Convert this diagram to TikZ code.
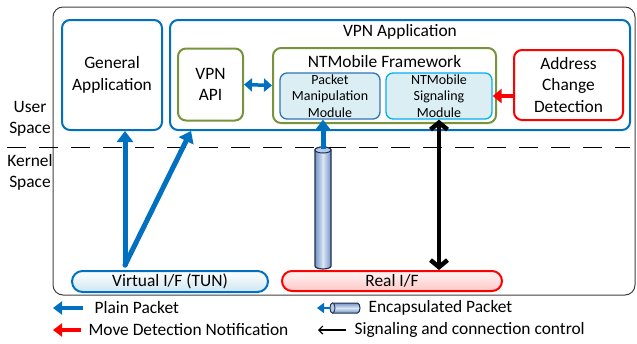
\documentclass[tikz,border=0pt]{standalone}
\usepackage{fontspec}
\setmainfont{Carlito}
\usetikzlibrary{arrows.meta,calc}
\definecolor{vblue}{HTML}{0070C0}
\definecolor{vgreen}{HTML}{77933C}
\definecolor{vred}{HTML}{FF0000}
\definecolor{modfill}{HTML}{DAEEF3}
\definecolor{pmborder}{HTML}{2E75B6}
\definecolor{sigborder}{HTML}{00B0F0}
\definecolor{cylA}{HTML}{7393C6}
\definecolor{cylB}{HTML}{DCE6F4}
\definecolor{cylD}{HTML}{1F3050}
\definecolor{cylTop}{HTML}{B4CAE8}
\definecolor{frame}{HTML}{404040}
\tikzset{
  big/.style={font=\fontsize{17.4}{21.5}\selectfont},
  small/.style={font=\fontsize{14}{16.6}\selectfont},
  boxx/.style={draw, line width=2pt, rounded corners=8pt, inner sep=0pt, align=center},
  modbox/.style={draw, line width=1.3pt, rounded corners=7pt, fill=modfill, inner sep=0pt, align=center, small},
  bluearrow/.style={draw=vblue, line width=5pt, -{Triangle[length=11pt,width=16pt]}},
  blackarrow/.style={draw=black, line width=4.5pt, {Straight Barb[length=7pt,width=17pt]}-{Straight Barb[length=7pt,width=17pt]}},
}
\begin{document}
\begin{tikzpicture}[x=1pt,y=-1pt]
\useasboundingbox (0,0) rectangle (637,343);
% outer frame
\node[draw=frame, line width=1pt, rounded corners=10pt, minimum width=582pt, minimum height=288pt, inner sep=0pt] (outer) at (344,151) {};
% dashed separator
\coordinate (dl) at (7,147.5);
\coordinate (dr) at (630,147.5);
\draw[black, line width=1.3pt, dash pattern=on 19pt off 13pt] (dl) -- (dr);
% side labels
\node[big, align=center] (us) at (30,119) {User\\Space};
\node[big, align=center] (ks) at (30,172.5) {Kernel\\Space};
% boxes
\node[boxx, draw=vblue, big, minimum width=100pt, minimum height=110pt] (ga) at (112,75) {General\\Application};
\node[boxx, draw=vblue, minimum width=460pt, minimum height=110pt] (vpn) at (400,75) {};
\node[big] (vpnt) at (400,32) {VPN Application};
\node[boxx, draw=vgreen, big, minimum width=65pt, minimum height=72pt] (api) at (210.5,84.5) {VPN\\API};
\node[boxx, draw=vgreen, minimum width=223pt, minimum height=75pt] (ntm) at (384.5,85.5) {};
\node[big] (ntmt) at (384.5,61.5) {NTMobile Framework};
\node[modbox, draw=pmborder, minimum width=100pt, minimum height=46pt] (pm) at (330,96) {Packet\\Manipulation\\Module};
\node[modbox, draw=sigborder, minimum width=106pt, minimum height=46pt] (sig) at (439,96) {NTMobile\\Signaling\\Module};
\node[boxx, draw=vred, big, minimum width=109pt, minimum height=70pt] (acd) at (568.5,85) {Address\\Change\\Detection};
% interfaces
\node[draw=vblue, line width=2pt, rounded corners=10.5pt, top color=white, bottom color=modfill!80!vblue!60, minimum width=196pt, minimum height=21pt, inner sep=0pt, big] (vif) at (170,281.5) {Virtual I/F (TUN)};
\node[draw=vred, line width=2pt, rounded corners=10pt, top color=vred!4, bottom color=vred!22, minimum width=220pt, minimum height=20pt, inner sep=0pt, big] (rif) at (392,281) {Real I/F};
% cylinder (encapsulated tunnel)
\path[draw=cylD, line width=1.2pt, left color=cylA, right color=cylA, middle color=cylB]
  (315,150) -- (315,266) arc[start angle=180, end angle=0, x radius=8, y radius=3]
  -- (331,150) arc[start angle=0, end angle=-180, x radius=8, y radius=3] -- cycle;
\draw[draw=cylD, line width=1pt, fill=cylTop] (323,150) ellipse[x radius=8, y radius=3];
\coordinate (cyltop) at (323,149);
% connectors
\coordinate (vb) at (125,265);
\draw[bluearrow, line cap=round] (vb) -- (vb |- ga.south);
\draw[bluearrow, line cap=round] (vb) -- ($(vpn.south west)+(22,0)$);
\draw[bluearrow] (cyltop) -- (cyltop |- pm.south);
\draw[draw=vblue, line width=3.5pt, {Triangle[length=8pt,width=13pt]}-{Triangle[length=8pt,width=13pt]}] (api.east) -- (ntm.west);
\draw[draw=vred, line width=3.5pt, -{Triangle[length=9pt,width=14pt]}] (acd.west |- sig.east) -- (sig.east);
\draw[blackarrow] (sig.south) -- (sig.south |- rif.north);
% legend
\coordinate (l1a) at (83,308); \coordinate (l1b) at (53,308);
\draw[draw=vblue, line width=4pt, -{Triangle[length=9pt,width=13pt]}] (l1a) -- (l1b);
\node[big, anchor=west] (t1) at (91,308) {Plain Packet};
\coordinate (l2a) at (81,330); \coordinate (l2b) at (53,330);
\draw[draw=vred, line width=4pt, -{Triangle[length=9pt,width=13pt]}] (l2a) -- (l2b);
\node[big, anchor=west] (t2) at (85,330) {Move Detection Notification};
% legend cylinder
\path[draw=cylD, line width=1pt, top color=cylA, bottom color=cylA, middle color=cylB]
  (332.5,303) -- (357.5,303) arc[start angle=-90, end angle=90, x radius=2.5, y radius=5]
  -- (332.5,313) arc[start angle=90, end angle=270, x radius=2.5, y radius=5] -- cycle;
\draw[draw=cylD, line width=0.8pt, fill=cylTop] (332.5,308) ellipse[x radius=2.5, y radius=5];
\coordinate (l3a) at (330,308); \coordinate (l3b) at (317,308);
\draw[draw=vblue, line width=2.5pt, -{Triangle[length=7pt,width=10pt]}] (l3a) -- (l3b);
\node[big, anchor=west] (t3) at (365,308) {Encapsulated Packet};
\coordinate (l4a) at (346,330); \coordinate (l4b) at (318,330);
\draw[black, line width=1.2pt, -{Straight Barb[length=4pt,width=8pt]}] (l4a) -- (l4b);
\node[big, anchor=west] (t4) at (351,330) {Signaling and connection control};
\end{tikzpicture}
\end{document}
